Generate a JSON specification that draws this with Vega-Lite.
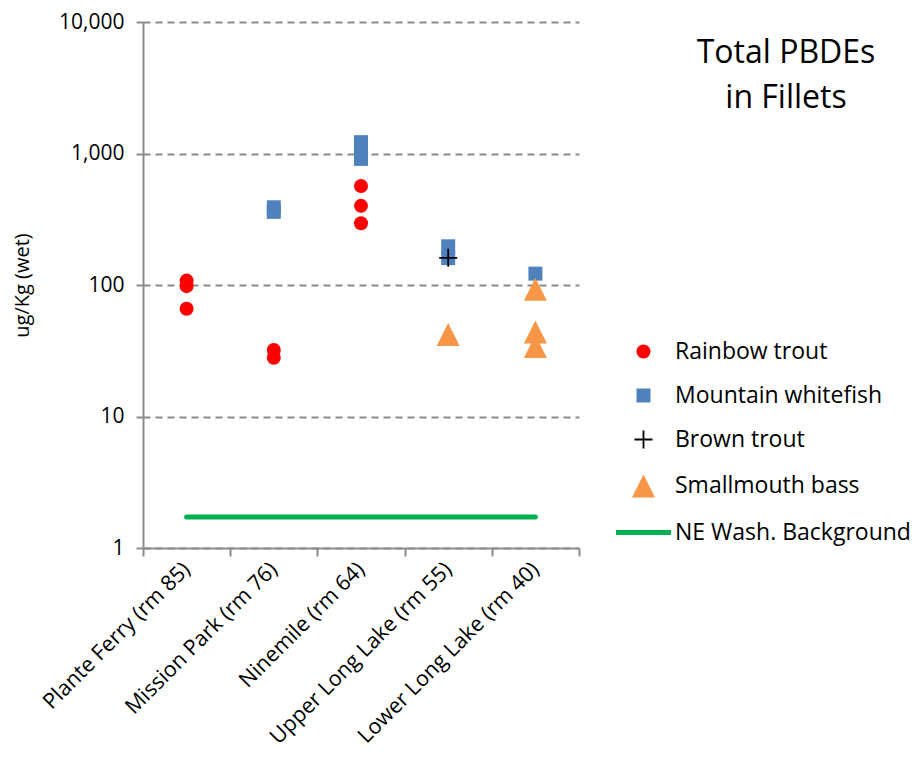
{
  "$schema": "https://vega.github.io/schema/vega-lite/v6.json",
  "width": 436,
  "height": 526,
  "padding": {"left": 12, "top": 11, "right": 0, "bottom": 0},
  "autosize": {"type": "pad"},
  "background": "white",
  "config": {
    "font": "Open Sans",
    "view": {"stroke": null},
    "axis": {"domainColor": "#8c8c8c", "domainWidth": 2, "tickColor": "#8c8c8c", "tickWidth": 2, "tickSize": 8, "labelColor": "black", "titleColor": "black", "labelFont": "Open Sans", "titleFont": "Open Sans", "titleFontWeight": "normal"}
  },
  "title": {
    "text": ["Total PBDEs", "in Fillets"],
    "orient": "none",
    "anchor": "start",
    "frame": "group",
    "align": "center",
    "baseline": "alphabetic",
    "offset": 0,
    "dx": 643,
    "dy": 41,
    "fontSize": 32,
    "fontWeight": "normal",
    "font": "Open Sans",
    "color": "black",
    "lineHeight": 45
  },
  "datasets": {
    "fish": [
      {"site": "Plante Ferry (rm 85)", "species": "Rainbow trout", "value": 108},
      {"site": "Plante Ferry (rm 85)", "species": "Rainbow trout", "value": 98},
      {"site": "Plante Ferry (rm 85)", "species": "Rainbow trout", "value": 66},
      {"site": "Mission Park (rm 76)", "species": "Rainbow trout", "value": 32},
      {"site": "Mission Park (rm 76)", "species": "Rainbow trout", "value": 28},
      {"site": "Mission Park (rm 76)", "species": "Mountain whitefish", "value": 390},
      {"site": "Mission Park (rm 76)", "species": "Mountain whitefish", "value": 360},
      {"site": "Ninemile (rm 64)", "species": "Rainbow trout", "value": 566},
      {"site": "Ninemile (rm 64)", "species": "Rainbow trout", "value": 400},
      {"site": "Ninemile (rm 64)", "species": "Rainbow trout", "value": 295},
      {"site": "Ninemile (rm 64)", "species": "Mountain whitefish", "value": 1220},
      {"site": "Ninemile (rm 64)", "species": "Mountain whitefish", "value": 1050},
      {"site": "Ninemile (rm 64)", "species": "Mountain whitefish", "value": 910},
      {"site": "Upper Long Lake (rm 55)", "species": "Mountain whitefish", "value": 197},
      {"site": "Upper Long Lake (rm 55)", "species": "Mountain whitefish", "value": 160},
      {"site": "Upper Long Lake (rm 55)", "species": "Brown trout", "value": 161},
      {"site": "Upper Long Lake (rm 55)", "species": "Smallmouth bass", "value": 42},
      {"site": "Lower Long Lake (rm 40)", "species": "Mountain whitefish", "value": 122},
      {"site": "Lower Long Lake (rm 40)", "species": "Smallmouth bass", "value": 93},
      {"site": "Lower Long Lake (rm 40)", "species": "Smallmouth bass", "value": 44},
      {"site": "Lower Long Lake (rm 40)", "species": "Smallmouth bass", "value": 34}
    ],
    "background": [
      {"site": "Plante Ferry (rm 85)", "species": "NE Wash. Background", "value": 1.72},
      {"site": "Lower Long Lake (rm 40)", "species": "NE Wash. Background", "value": 1.72}
    ]
  },
  "layer": [
    {
      "data": {"name": "background"},
      "mark": {"type": "line", "strokeWidth": 5, "strokeCap": "round"},
      "encoding": {
        "x": {"field": "site", "type": "nominal"},
        "y": {"field": "value", "type": "quantitative"},
        "stroke": {"field": "species", "type": "nominal"}
      }
    },
    {
      "data": {"name": "fish"},
      "mark": {"type": "point", "filled": true, "opacity": 1, "strokeWidth": 0},
      "encoding": {
        "x": {
          "field": "site",
          "type": "nominal",
          "sort": null,
          "scale": {"type": "band", "domain": ["Plante Ferry (rm 85)", "Mission Park (rm 76)", "Ninemile (rm 64)", "Upper Long Lake (rm 55)", "Lower Long Lake (rm 40)"], "paddingInner": 0, "paddingOuter": 0},
          "axis": {"title": null, "labelAngle": -45, "labelAlign": "right", "labelBaseline": "middle", "labelFontSize": 21.5, "labelPadding": 10, "tickBand": "extent", "grid": false, "labelLimit": 400}
        },
        "y": {
          "field": "value",
          "type": "quantitative",
          "scale": {"type": "log", "domain": [1, 10000], "nice": false},
          "axis": {"title": "ug/Kg (wet)", "titleFontSize": 20, "titlePadding": 26, "values": [1, 10, 100, 1000, 10000], "format": ",", "labelFontSize": 21, "labelPadding": 12, "tickSize": 7, "grid": true, "gridColor": "#8c8c8c", "gridWidth": 2, "gridDash": [7, 5]}
        },
        "shape": {
          "field": "species",
          "type": "nominal",
          "scale": {
            "domain": ["Rainbow trout", "Mountain whitefish", "Brown trout", "Smallmouth bass", "NE Wash. Background"],
            "range": ["circle", "square", "M-1,-0.1H-0.1V-1H0.1V-0.1H1V0.1H0.1V1H-0.1V0.1H-1Z", "M0,-1L1,1H-1Z", "M-2,0H2"]
          },
          "legend": {
            "title": null,
            "orient": "none",
            "legendX": 484,
            "legendY": 318,
            "labelFontSize": 23,
            "labelFont": "Open Sans",
            "labelColor": "black",
            "labelOffset": 15,
            "labelLimit": 400,
            "symbolStrokeWidth": 5,
            "gridAlign": "all",
            "rowPadding": 0,
            "padding": 0
          }
        },
        "fill": {
          "field": "species",
          "type": "nominal",
          "scale": {
            "domain": ["Rainbow trout", "Mountain whitefish", "Brown trout", "Smallmouth bass", "NE Wash. Background"],
            "range": ["#ff0000", "#4f81bd", "#000000", "#f79646", "transparent"]
          }
        },
        "stroke": {
          "field": "species",
          "type": "nominal",
          "scale": {
            "domain": ["Rainbow trout", "Mountain whitefish", "Brown trout", "Smallmouth bass", "NE Wash. Background"],
            "range": ["transparent", "transparent", "transparent", "transparent", "#00b050"]
          }
        },
        "size": {
          "field": "species",
          "type": "nominal",
          "scale": {
            "type": "ordinal",
            "domain": ["Rainbow trout", "Mountain whitefish", "Brown trout", "Smallmouth bass", "NE Wash. Background"],
            "range": [196, 196, 324, 529, 756]
          }
        }
      }
    }
  ]
}
